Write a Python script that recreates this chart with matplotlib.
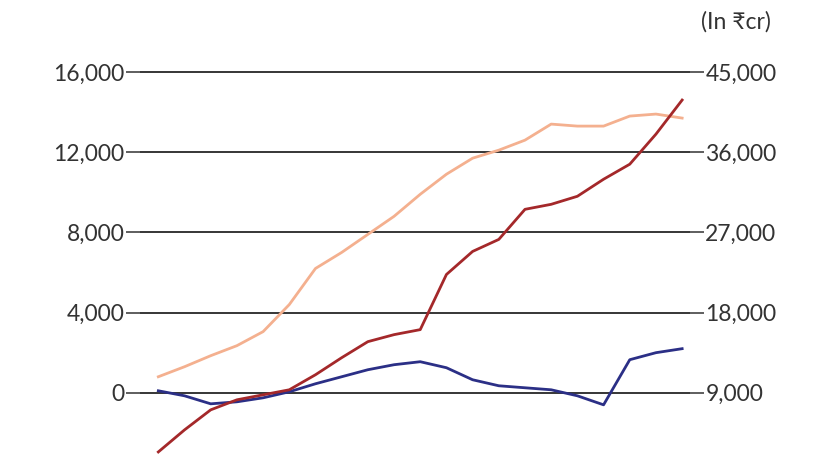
import matplotlib
matplotlib.use("Agg")
import matplotlib.pyplot as plt

periods = list(range(21))
peach = [800,1300,1850,2350,3050,4400,6200,7000,7900,8800,9900,10900,11700,12100,12600,13400,13300,13300,13800,13900,13700]
red = [-2950,-1850,-850,-350,-100,150,900,1750,2550,2900,3150,5900,7050,7650,9150,9400,9800,10650,11400,12900,14600]
blue = [100,-150,-550,-450,-250,50,450,800,1150,1400,1550,1250,650,350,250,150,-150,-600,1650,2000,2200]
left_ticks = [-4000,0,4000,8000,12000,16000]
right_ticks = [0,9000,18000,27000,36000,45000]

plt.rcParams['font.family'] = ['Lato', 'DejaVu Sans']
fig = plt.figure(figsize=(8.26,4.65), dpi=100)
ax = fig.add_axes([140/826, -8/465, 550/826, 473/465])
top = 19589
ax.set_ylim(-4000, top)
ax.set_xlim(-0.7, 20.3)
for t in left_ticks[1:]:
    ax.axhline(t, color='black', lw=1.1, zorder=1)
ax.plot(periods, peach, color='#f4b08f', lw=2, zorder=3)
ax.plot(periods, blue, color='#2b2f86', lw=2, zorder=3)
ax.plot(periods, red, color='#a4282a', lw=2, zorder=4)
ax.set_yticks(left_ticks)
ax.set_yticklabels([f"{v:,}" for v in left_ticks])
ax.tick_params(axis='y', length=10, width=1.1, pad=1, labelsize=16.5, colors='#333333')
ax.set_xticks([])
for s in ax.spines.values():
    s.set_visible(False)
ax2 = ax.twinx()
ax2.set_ylim(0, 9000 + 2.25*top)
ax2.set_yticks(right_ticks)
ax2.set_yticklabels([f"{v:,}" for v in right_ticks])
ax2.tick_params(axis='y', length=10, width=1.1, pad=1, labelsize=16.5, colors='#333333')
for s in ax2.spines.values():
    s.set_visible(False)
fig.text(736/826, 1-22/465, "(In ₹cr)", ha='center', va='center', fontsize=16.5, color='#333333')
fig.savefig("out.png", dpi=100)
